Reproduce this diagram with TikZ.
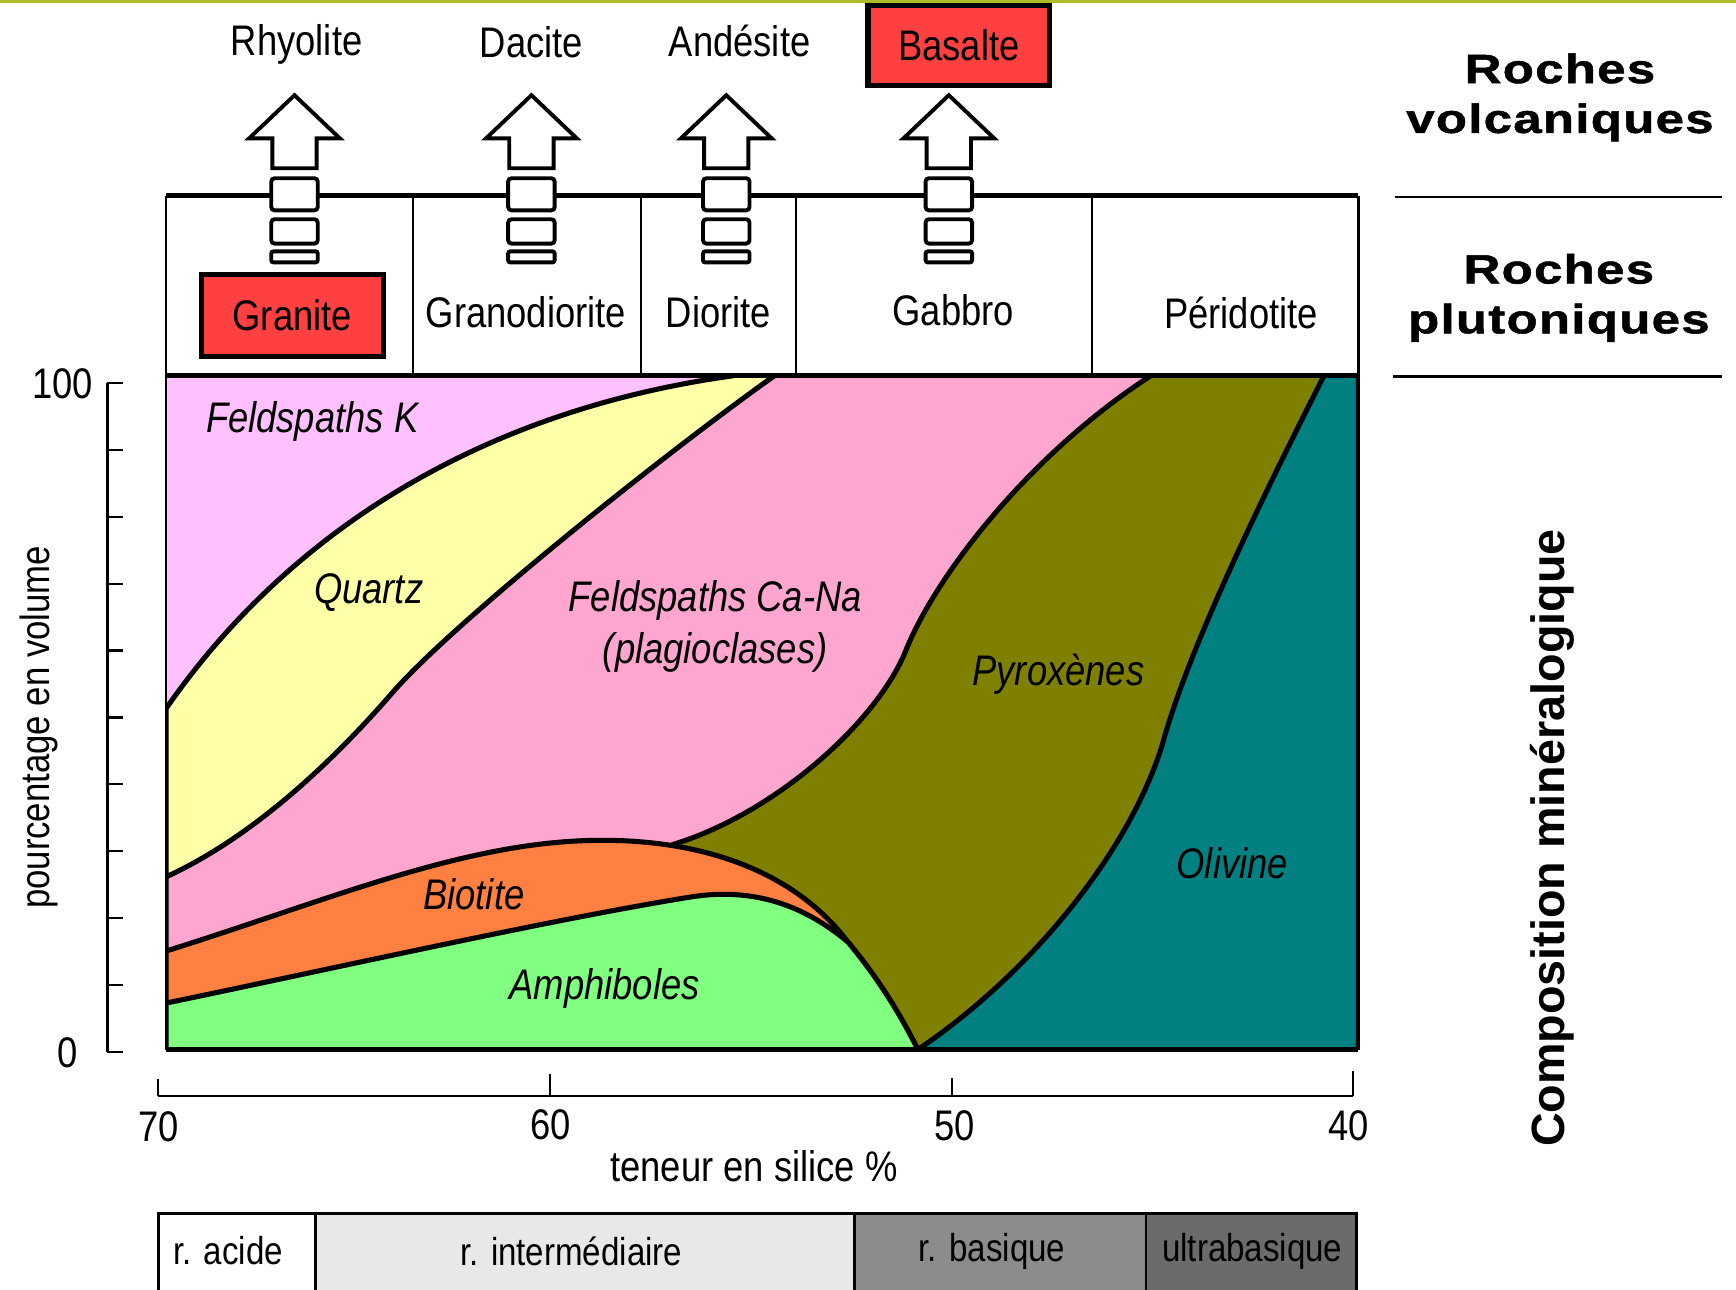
\documentclass[tikz,border=0pt]{standalone}
\usepackage{fontspec}
\setmainfont{Liberation Sans}
\newfontfamily\narrowfont[FakeStretch=0.85]{Liberation Sans}
\newfontfamily\widefont[FakeStretch=1.25,LetterSpace=3,FakeBold=1.2]{Liberation Sans}
\newfontfamily\boldfont{Liberation Sans}
\usetikzlibrary{positioning}
\definecolor{feldK}{RGB}{255,192,255}
\definecolor{quartzY}{RGB}{255,255,168}
\definecolor{plagio}{RGB}{255,166,208}
\definecolor{biotiteO}{RGB}{255,128,64}
\definecolor{amphiG}{RGB}{128,255,128}
\definecolor{pyroxO}{RGB}{128,128,0}
\definecolor{olivineT}{RGB}{0,128,128}
\definecolor{rockred}{RGB}{255,64,64}
\definecolor{topbar}{RGB}{170,188,40}
\definecolor{intergray}{RGB}{232,232,232}
\definecolor{basgray}{RGB}{140,140,140}
\definecolor{ultragray}{RGB}{107,107,107}

\begin{document}
\begin{tikzpicture}[x=0.1mm, y=-0.1mm,
  lbl/.style={font=\narrowfont\fontsize{11}{12}\selectfont, inner sep=1pt},
  mineral/.style={font=\narrowfont\itshape\fontsize{11}{13.5}\selectfont, inner sep=0pt, align=center},
  rockbox/.style={draw, line width=1.3pt, fill=rockred, minimum width=16.4mm,
                  minimum height=7.2mm, font=\narrowfont\fontsize{11}{12}\selectfont},
  barlbl/.style={font=\narrowfont\fontsize{10}{12}\selectfont},
  heading/.style={font=\widefont\bfseries\fontsize{10.5}{12.8}\selectfont, align=center},
  bound/.style={draw, line width=1.3pt, line join=round},
  blockarr/.style={draw, fill=white, line width=1pt}
]
  \useasboundingbox (0,0) rectangle (1568,1165);
  \fill[topbar] (0,0) rectangle (1568,3);

  % mineral fields
  \begin{scope}
    \clip (150,339) rectangle (1227,948);
    \fill[feldK] (150,339) rectangle (1227,948);
    \path[bound, fill=quartzY] (150,640) .. controls (240,510) and (400,375) .. (665,339)
      -- (1227,339) -- (1227,948) -- (150,948) -- cycle;
    \path[bound, fill=plagio] (150,792) .. controls (220,760) and (290,700) .. (355,625)
      .. controls (410,562) and (600,410) .. (700,339)
      -- (1227,339) -- (1227,948) -- (150,948) -- cycle;
    \path[bound, fill=pyroxO] (607,763) .. controls (700,735) and (792,652) .. (818,588)
      .. controls (845,520) and (930,410) .. (1040,339)
      -- (1227,339) -- (1227,948) -- (700,948) -- cycle;
    \path[bound, fill=biotiteO] (150,859) .. controls (300,812) and (420,760) .. (540,759)
      .. controls (640,758) and (720,790) .. (766,851)
      .. controls (790,880) and (810,910) .. (829,948)
      -- (150,948) -- cycle;
    \path[bound, fill=amphiG] (150,906) .. controls (300,875) and (500,830) .. (625,810)
      .. controls (690,800) and (735,825) .. (766,851)
      .. controls (790,880) and (810,910) .. (829,948)
      -- (150,948) -- cycle;
    \path[bound, fill=olivineT] (1196,339) .. controls (1150,430) and (1075,580) .. (1050,672)
      .. controls (1020,770) and (930,880) .. (829,948)
      -- (1227,948) -- (1227,339) -- cycle;
  \end{scope}

  % frame of the chart and of the plutonic row
  \draw[line width=0.6pt] (150,177) -- (150,948) (1227,177) -- (1227,948);
  \draw[line width=1.4pt] (150,339) -- (1227,339);
  \draw[line width=1.2pt] (150,948) -- (1227,948);
  \draw[line width=1.3pt] (150,177) -- (1227,177);
  \foreach \xd in {373,579,719,986}
    \draw[line width=0.5pt] (\xd,177) -- (\xd,339);

  % arrows from plutonic to volcanic rocks
  \foreach \cx in {266,480,656,857} {
    \draw[blockarr] (\cx,86) -- (\cx+41,125) -- (\cx+20,125) -- (\cx+20,152)
      -- (\cx-20,152) -- (\cx-20,125) -- (\cx-41,125) -- cycle;
    \draw[blockarr, rounded corners=0.3mm] (\cx-21,161) rectangle (\cx+21,190);
    \draw[blockarr, rounded corners=0.3mm] (\cx-21,198) rectangle (\cx+21,220);
    \draw[blockarr, rounded corners=0.2mm] (\cx-21,227) rectangle (\cx+21,237);
  }

  % volcanic rocks
  \node[lbl] (rhyolite) at (268,40) {Rhyolite};
  \node[lbl] (dacite) at (480,38) {Dacite};
  \node[lbl] (andesite) at (668,37) {Andésite};
  \node[rockbox] (basalte) at (866,41) {Basalte};

  % plutonic rocks
  \node[rockbox, minimum height=7.4mm] (granite) at (264,285) {Granite};
  \node[lbl] (granodiorite) at (475,282) {Granodiorite};
  \node[lbl] (diorite) at (649,282) {Diorite};
  \node[lbl] (gabbro) at (861,280) {Gabbro};
  \node[lbl] (peridotite) at (1121,283) {Péridotite};

  % minerals
  \node[mineral] (feldk) at (282,381) {Feldspaths K};
  \node[mineral] (quartz) at (333,535) {Quartz};
  \node[mineral] (feldcana) at (646,566) {Feldspaths Ca-Na\\(plagioclases)};
  \node[mineral] (pyroxenes) at (956,609) {Pyroxènes};
  \node[mineral] (olivine) at (1113,780) {Olivine};
  \node[mineral] (biotite) at (428,808) {Biotite};
  \node[mineral] (amphiboles) at (546,893) {Amphiboles};

  % vertical axis
  \draw[line width=0.6pt] (97,346) -- (97,950);
  \foreach \i in {0,...,10}
    \draw[line width=0.6pt] (97,{950-60.4*\i}) -- (111,{950-60.4*\i});
  \node[lbl, anchor=east] (ymax) at (88,347) {100};
  \node[lbl, anchor=east] (ymin) at (74,951) {0};
  \node[lbl, rotate=90, font=\narrowfont\fontsize{10.5}{12}\selectfont] (ylabel) at (35,657)
    {pourcentage en volume};

  % silica axis
  \draw[line width=0.6pt] (143,990) -- (1222,990);
  \draw[line width=0.6pt] (143,975) -- (143,990) (497,970) -- (497,990)
    (860,974) -- (860,990) (1222,967) -- (1222,990);
  \node[lbl] (s70) at (143,1018) {70};
  \node[lbl] (s60) at (497,1016) {60};
  \node[lbl] (s50) at (862,1017) {50};
  \node[lbl] (s40) at (1218,1017) {40};
  \node[lbl] (silica) at (681,1053) {teneur en silice \%};

  % rock classes
  \fill[white] (143,1096) rectangle (285,1165);
  \fill[intergray] (285,1096) rectangle (772,1165);
  \fill[basgray] (772,1096) rectangle (1035,1165);
  \fill[ultragray] (1035,1096) rectangle (1225,1165);
  \draw[line width=0.7pt] (143,1165) -- (143,1096) -- (1225,1096) -- (1225,1165);
  \foreach \xd in {285,772,1035}
    \draw[line width=0.7pt] (\xd,1096) -- (\xd,1165);
  \node[barlbl] (acide) at (206,1130) {r. acide};
  \node[barlbl] (inter) at (516,1130) {r. intermédiaire};
  \node[barlbl] (basique) at (896,1130) {r. basique};
  \node[barlbl] (ultra) at (1131,1130) {ultrabasique};

  % right column
  \node[heading] (volc) at (1409,88) {Roches\\volcaniques};
  \draw[line width=0.6pt] (1260,178) -- (1555,178);
  \node[heading] (pluto) at (1408,269) {Roches\\plutoniques};
  \draw[line width=0.6pt] (1258,340) -- (1555,340);
  \node[rotate=90, font=\boldfont\bfseries\fontsize{12}{14}\selectfont] (compo) at (1402,757)
    {Composition minéralogique};
\end{tikzpicture}
\end{document}
